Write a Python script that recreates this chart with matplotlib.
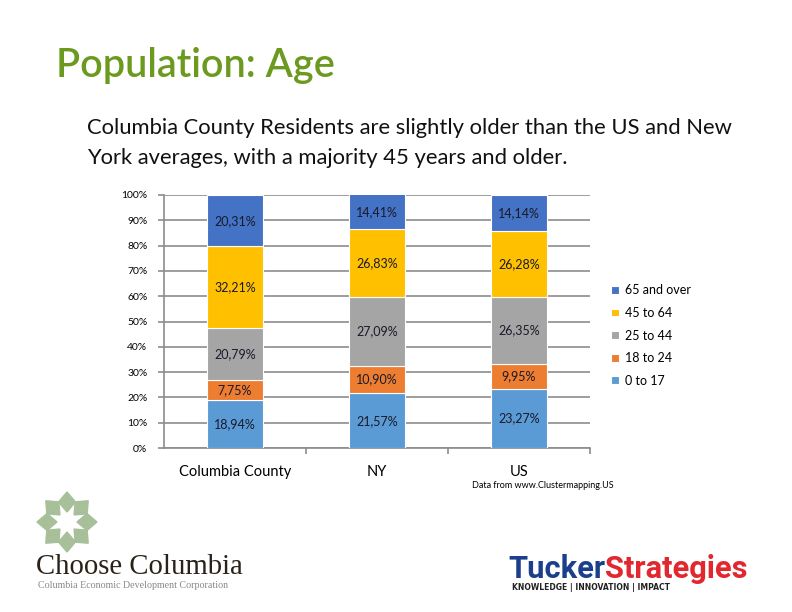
import matplotlib
matplotlib.use("Agg")
import matplotlib.pyplot as plt
import numpy as np
from matplotlib.patches import Polygon

categories = ["Columbia County", "NY", "US"]
series_names = ["0 to 17", "18 to 24", "25 to 44", "45 to 64", "65 and over"]
v_0_17 = [18.94, 21.57, 23.27]
v_18_24 = [7.75, 10.90, 9.95]
v_25_44 = [20.79, 27.09, 26.35]
v_45_64 = [32.21, 26.83, 26.28]
v_65 = [20.31, 14.41, 14.14]
series_values = [v_0_17, v_18_24, v_25_44, v_45_64, v_65]
colors = ["#5B9BD5", "#ED7D31", "#A5A5A5", "#FFC000", "#4472C4"]
yticks = [0, 10, 20, 30, 40, 50, 60, 70, 80, 90, 100]

FONT = "Lato"
W, H = 792, 612
fig = plt.figure(figsize=(W / 100, H / 100), dpi=100)

# Titles
fig.text(56 / W, 1 - 65 / H, "Population: Age", fontsize=28.5, color="#6B9A1E",
         family=FONT, fontweight="semibold", va="center", ha="left")
fig.text(87 / W, 1 - 128 / H, "Columbia County Residents are slightly older than the US and New",
         fontsize=15.8, family=FONT, va="center", ha="left", color="#111111")
fig.text(87 / W, 1 - 158 / H, "York averages, with a majority 45 years and older.",
         fontsize=15.8, family=FONT, va="center", ha="left", color="#111111")

# Main chart
ax = fig.add_axes([164 / W, 1 - 448 / H, (590 - 164) / W, (448 - 195) / H])
x = np.arange(len(categories))
bottom = np.zeros(len(categories))
handles = []
for name, vals, col in zip(series_names, series_values, colors):
    vals = np.array(vals)
    b = ax.bar(x, vals, 0.39, bottom=bottom, color=col, edgecolor="white",
               linewidth=0.8, label=name, zorder=3)
    handles.append(b)
    top = np.minimum(bottom + vals, 100)
    for xi, lo, hi, v in zip(x, bottom, top, vals):
        ax.text(xi, (lo + hi) / 2, f"{v:.2f}%".replace(".", ","), ha="center",
                va="center", fontsize=9, family=FONT, color="#1a1a2a", zorder=4)
    bottom = bottom + vals

ax.set_xlim(-0.5, 2.5)
ax.set_ylim(0, 100)
ax.set_yticks(yticks)
ax.set_yticklabels([f"{t}%" for t in yticks], fontsize=7.5, family=FONT)
ax.yaxis.grid(True, color="#8c8c8c", linewidth=1.2, zorder=0)
ax.set_axisbelow(True)
ax.set_xticks(x)
ax.set_xticklabels(categories, fontsize=10.5, family=FONT)
ax.set_xticks([0.5, 1.5, 2.5], minor=True)
ax.tick_params(axis="x", which="major", length=0, pad=12)
ax.tick_params(axis="x", which="minor", length=4, color="#8c8c8c", width=1.2)
ax.tick_params(axis="y", length=4, color="#8c8c8c", width=1.2, pad=8)
for s in ["top", "right"]:
    ax.spines[s].set_visible(False)
for s in ["left", "bottom"]:
    ax.spines[s].set_color("#8c8c8c")
    ax.spines[s].set_linewidth(1.2)

leg = fig.legend(handles[::-1], series_names[::-1], loc="upper left",
                 bbox_to_anchor=(600 / W, 1 - 273 / H), frameon=False,
                 prop={"family": FONT, "size": 9}, handlelength=0.6,
                 handleheight=0.6, handletextpad=0.5, labelspacing=0.85)

fig.text(472 / W, 1 - 485 / H, "Data from www.Clustermapping.US", fontsize=6.5,
         family=FONT, va="center", ha="left")

# Choose Columbia logo
lax = fig.add_axes([0, 0, 1, 1], zorder=-1)
lax.set_xlim(0, W)
lax.set_ylim(H, 0)
lax.axis("off")
cx, cy = 67, 522
for k in range(8):
    a = np.pi / 2 + k * np.pi / 4
    r = 20
    px, py = cx + r * np.cos(a), cy - r * np.sin(a)
    d = 10
    t = a
    pts = [(px + d * np.cos(t), py - d * np.sin(t)),
           (px + 0.85 * d * np.cos(t + np.pi / 2), py - 0.85 * d * np.sin(t + np.pi / 2)),
           (px - d * np.cos(t), py + d * np.sin(t)),
           (px + 0.85 * d * np.cos(t - np.pi / 2), py - 0.85 * d * np.sin(t - np.pi / 2))]
    lax.add_patch(Polygon(pts, closed=True, color="#A8C09A"))
lax.text(36, 567, "Choose Columbia", fontsize=20.7, family="Liberation Serif",
         va="center", ha="left", color="#2a2218")
lax.text(38, 586, "Columbia Economic Development Corporation", fontsize=7.2,
         family="Liberation Serif", va="center", ha="left", color="#888888")

# Tucker Strategies logo
t1 = lax.text(508, 569, "Tucker", fontsize=22.2, family="Roboto",
              fontweight="bold", va="center", ha="left", color="#1B3F8B")
fig.canvas.draw()
bb = t1.get_window_extent()
x_end = bb.x1
lax.text(x_end, 569, "Strategies", fontsize=22.2, family="Roboto",
         fontweight="bold", va="center", ha="left", color="#E0282E",
         transform=matplotlib.transforms.blended_transform_factory(
             matplotlib.transforms.IdentityTransform(), lax.transData))
lax.text(512, 588, "KNOWLEDGE | INNOVATION | IMPACT", fontsize=5.5, family="DejaVu Sans",
         fontweight="bold", va="center", ha="left", color="#222222")

fig.savefig("out.png", dpi=100)
